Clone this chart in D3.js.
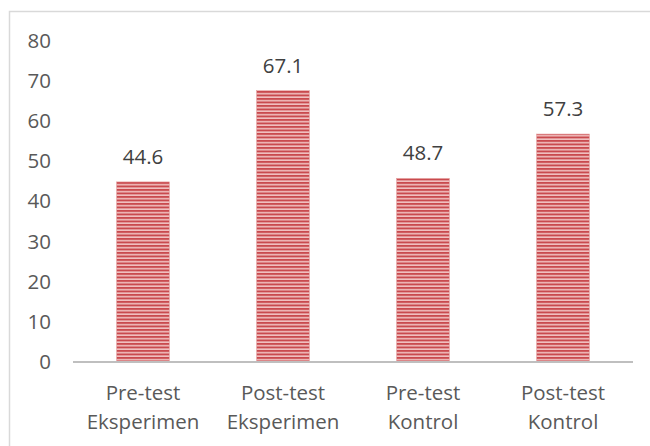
<!DOCTYPE html>
<html><head><meta charset="utf-8">
<script src="https://cdn.jsdelivr.net/npm/d3@7/dist/d3.min.js"></script>
<style>body{margin:0;background:#fff}svg{display:block}</style>
</head><body>
<script>
const categories = [["Pre-test","Eksperimen"],["Post-test","Eksperimen"],["Pre-test","Kontrol"],["Post-test","Kontrol"]];
const barValues = [44.8, 67.5, 45.7, 56.7];
const labelTexts = ["44.6", "67.1", "48.7", "57.3"];
const yTicks = [0,10,20,30,40,50,60,70,80];

const W = 650, H = 446;
const svg = d3.select("body").append("svg").attr("width", W).attr("height", H);
const font = "'Open Sans', sans-serif";
const txt = "#595959";
const fs = 20.5;

const defs = svg.append("defs");
const pat = defs.append("pattern").attr("id","stripes").attr("patternUnits","userSpaceOnUse")
  .attr("width",8).attr("height",3.5);
pat.append("rect").attr("width",8).attr("height",3.5).attr("fill","#f0c0c0");
pat.append("rect").attr("y",0).attr("width",8).attr("height",1.9).attr("fill","#c94a4e");

svg.append("rect").attr("x",9.5).attr("y",11.5).attr("width",800).attr("height",600)
  .attr("fill","none").attr("stroke","#d9d9d9").attr("stroke-width",1.5);

const x = d3.scaleBand().domain(d3.range(categories.length)).range([73, 633])
  .paddingInner(0.624).paddingOuter(0.312);
const y = d3.scaleLinear().domain([0, 80]).range([362, 40.4]);

// y tick labels
svg.append("g").selectAll("text").data(yTicks).join("text")
  .attr("x", 51).attr("y", d => y(d)).attr("dy","0.35em")
  .attr("text-anchor","end").attr("font-family",font).attr("font-size",fs).attr("fill",txt)
  .text(d => d);

// bars
svg.append("g").selectAll("rect").data(barValues).join("rect")
  .attr("x",(d,i)=>x(i)).attr("width",x.bandwidth())
  .attr("y",d=>y(d)).attr("height",d=>y(0)-y(d))
  .attr("fill","url(#stripes)").attr("stroke","#e39a9a").attr("stroke-width",0.6);

// axis line
svg.append("line").attr("x1",73).attr("x2",633).attr("y1",y(0)).attr("y2",y(0))
  .attr("stroke","#bfbfbf").attr("stroke-width",2.2);

// value labels
svg.append("g").selectAll("text").data(barValues).join("text")
  .attr("x",(d,i)=>x(i)+x.bandwidth()/2).attr("y",d=>y(d)-25).attr("dy","0.35em")
  .attr("text-anchor","middle").attr("font-family",font).attr("font-size",fs).attr("fill","#404040")
  .text((d,i)=>labelTexts[i]);

// category labels
const cg = svg.append("g").selectAll("text").data(categories).join("text")
  .attr("text-anchor","middle").attr("font-family",font).attr("font-size",fs).attr("fill",txt);
cg.each(function(d,i){
  const t = d3.select(this);
  d.forEach((line,j)=>{
    t.append("tspan").attr("x",x(i)+x.bandwidth()/2).attr("y",393+j*29).attr("dy","0.35em").text(line);
  });
});
</script>
</body></html>
